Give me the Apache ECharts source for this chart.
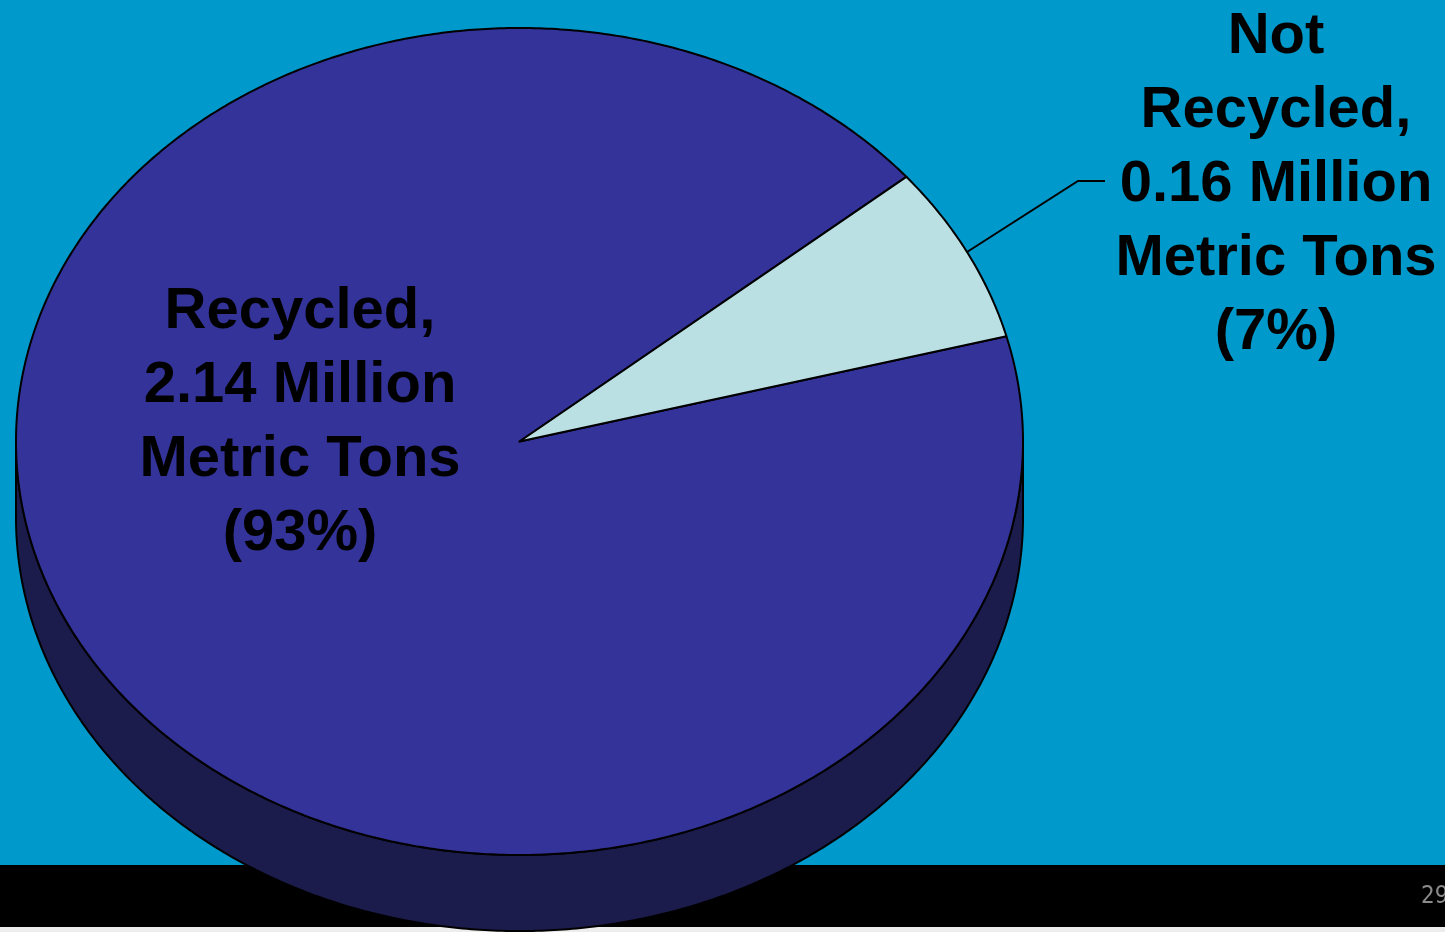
<!DOCTYPE html>
<html>
<head>
<meta charset="utf-8">
<title>Recycled vs Not Recycled</title>
<script src="https://cdn.jsdelivr.net/npm/echarts@6/dist/echarts.min.js"></script>
<style>
  html, body { margin: 0; padding: 0; background: #0099CC; }
  #chart { width: 1445px; height: 932px; }
</style>
</head>
<body>
<div id="chart"></div>
<script>
// Tonnage split, million metric tons
const categories = ['Recycled', 'Not Recycled'];
const labelNames = ['Recycled', 'Not\nRecycled'];
const tonnage = [2.14, 0.16];
const pageNumber = '29';

// Presentation settings
const START_ANGLE = 39.8;         // degrees, counter-clockwise from east
const DEPTH = 0.184;              // thickness of the disc, in y-axis units
const topColors = ['#333399', '#BBE0E3'];
const sideColors = ['#1C1C4C', '#7FA3A6'];
const labelLayout = [
  { x: 300, y: 423 },
  { x: 1276, y: 185, leader: [[1078, 181], [1105, 181]] }
];

const total = tonnage.reduce((a, b) => a + b, 0);
const startDeg = [];
const endDeg = [];
let acc = START_ANGLE;
tonnage.forEach((v) => {
  startDeg.push(acc);
  acc += v / total * 360;
  endDeg.push(acc);
});

function arcPoints(api, a0, a1, dz) {
  const pts = [];
  const n = Math.max(2, Math.ceil((a1 - a0) / 0.5));
  for (let k = 0; k <= n; k++) {
    const t = (a0 + (a1 - a0) * k / n) * Math.PI / 180;
    pts.push(api.coord([Math.cos(t), Math.sin(t) - dz]));
  }
  return pts;
}

function renderItem(params, api) {
  const i = params.dataIndex;
  const a0 = startDeg[i];
  const a1 = endDeg[i];
  const children = [];
  const stroke = { stroke: '#000', lineWidth: 2, lineJoin: 'round' };

  // visible side wall: the front half of the rim (180..360 degrees)
  for (let k = -1; k <= 1; k++) {
    const lo = Math.max(a0, 180 + 360 * k);
    const hi = Math.min(a1, 360 + 360 * k);
    if (lo < hi) {
      const top = arcPoints(api, lo, hi, 0);
      const bottom = arcPoints(api, lo, hi, DEPTH).reverse();
      children.push({
        type: 'polygon',
        shape: { points: top.concat(bottom) },
        style: Object.assign({ fill: sideColors[i] }, stroke)
      });
    }
  }

  // top face
  const center = api.coord([0, 0]);
  children.push({
    type: 'polygon',
    shape: { points: [center].concat(arcPoints(api, a0, a1, 0)) },
    style: Object.assign({ fill: topColors[i] }, stroke)
  });

  // label
  const pct = Math.round(api.value(1) / total * 100);
  const text = labelNames[i] + ',\n' + api.value(1).toFixed(2) +
    ' Million\nMetric Tons\n(' + pct + '%)';
  const lay = labelLayout[i];
  if (lay.leader) {
    const mid = (a0 + a1) / 2 * Math.PI / 180;
    const p = api.coord([Math.cos(mid), Math.sin(mid)]);
    children.push({
      type: 'polyline',
      shape: { points: [p].concat(lay.leader) },
      style: { stroke: '#000', lineWidth: 2, fill: null }
    });
  }
  children.push({
    type: 'text',
    style: {
      text: text,
      x: lay.x,
      y: lay.y,
      fill: '#000',
      font: 'bold 58px "Liberation Sans", Arial, sans-serif',
      lineHeight: 74,
      textAlign: 'center',
      textVerticalAlign: 'middle'
    }
  });

  return { type: 'group', children: children };
}

const chart = echarts.init(document.getElementById('chart'), null, { renderer: 'canvas' });
chart.setOption({
  backgroundColor: '#0099CC',
  animation: false,
  grid: { left: 16, top: 28, width: 1007, height: 827 },
  xAxis: { type: 'value', min: -1, max: 1, show: false },
  yAxis: { type: 'value', min: -1, max: 1, show: false },
  graphic: [
    {
      type: 'rect',
      z: 0,
      shape: { x: 0, y: 865, width: 1445, height: 62 },
      style: { fill: '#000' }
    },
    {
      type: 'rect',
      z: 0,
      shape: { x: 0, y: 927, width: 1445, height: 5 },
      style: { fill: '#EDEDED' }
    },
    {
      type: 'text',
      z: 1,
      style: {
        text: pageNumber,
        x: 1421,
        y: 897,
        fill: '#8A8A8A',
        font: '24px "Liberation Sans Narrow", "DejaVu Sans Condensed", sans-serif',
        textVerticalAlign: 'middle'
      }
    }
  ],
  series: [{
    type: 'custom',
    name: 'Tonnage',
    z: 5,
    clip: false,
    renderItem: renderItem,
    data: tonnage.map((v, i) => [i, v]),
    encode: { x: 0, y: 1 }
  }]
});
</script>
</body>
</html>
